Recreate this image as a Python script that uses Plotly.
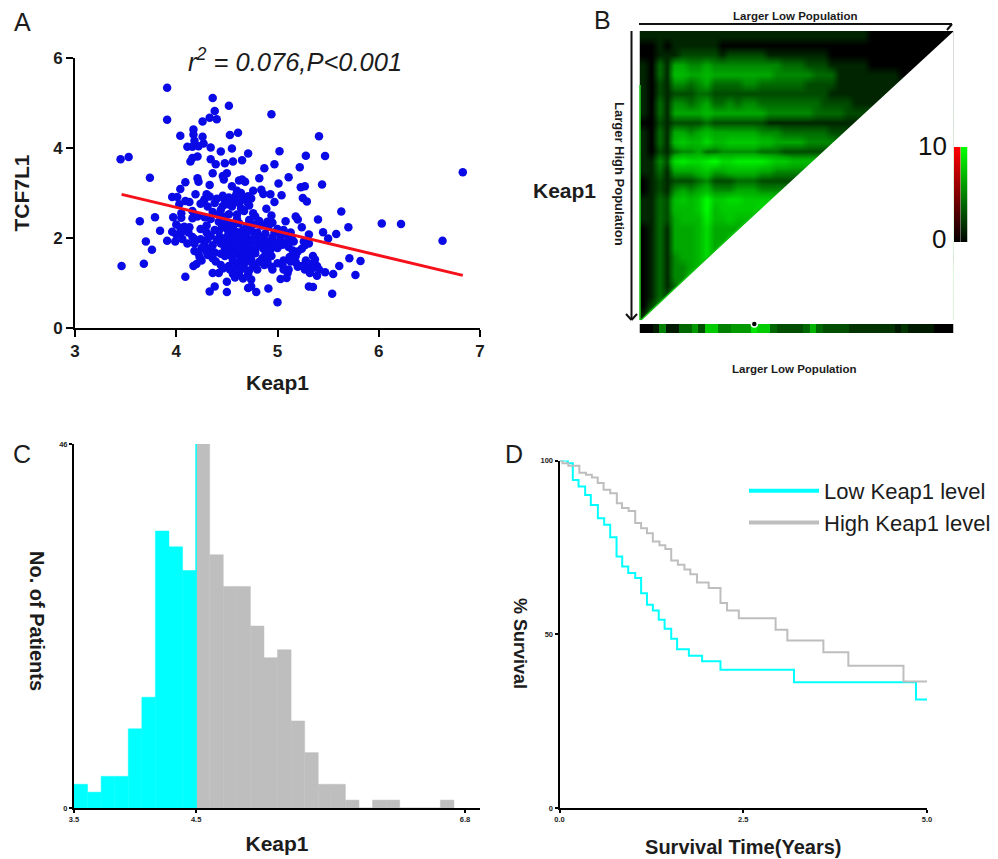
import plotly.graph_objects as go

W, H = 998, 859
INK = "#1c1c1c"

# ---------- Panel A ----------
scatter_points = [
(3.91,5.34),(4.36,5.11),(4.52,4.94),(4.38,4.82),(4.94,4.75),(3.91,4.63),(4.33,4.67),(4.40,4.64),(4.26,4.59),(4.17,4.41),
(4.17,4.30),(4.04,4.27),(4.26,4.25),(4.53,4.29),(4.61,4.34),(5.41,4.26),(4.18,4.16),(4.27,4.10),(4.11,4.03),(4.16,4.03),
(4.22,4.04),(4.34,4.01),(4.55,3.99),(4.44,3.92),(5.02,3.93),(4.71,3.88),(5.28,3.83),(5.47,3.82),(3.45,3.75),(3.53,3.80),
(4.21,3.81),(4.16,3.78),(4.14,3.70),(4.34,3.75),(4.39,3.64),(4.48,3.66),(4.56,3.70),(4.65,3.73),(4.97,3.64),(5.22,3.57),
(4.87,3.55),(4.36,3.44),(4.50,3.44),(4.46,3.38),(4.47,3.30),(3.74,3.34),(4.21,3.33),(4.22,3.25),(4.82,3.33),(5.11,3.35),
(4.62,3.28),(4.68,3.25),(4.65,3.30),(4.09,3.24),(4.33,3.18),(5.01,3.21),(5.44,3.19),(4.04,3.09),(4.55,3.15),(5.23,3.13),
(5.27,3.15),(4.60,3.05),(4.64,3.00),(4.76,3.05),(4.84,3.07),(4.86,2.98),(4.93,2.97),(5.04,2.95),(4.19,2.97),(4.30,2.97),
(3.96,2.91),(4.01,2.91),(4.33,2.92),(4.28,2.86),(4.40,2.87),(4.47,2.88),(4.52,2.90),(4.59,2.95),(4.66,2.90),(4.71,2.93),
(4.74,2.88),(4.58,2.83),(4.62,2.78),(4.70,2.80),(5.25,2.89),(5.29,2.81),(4.97,2.80),(4.27,2.81),(4.09,2.82),(4.03,2.75),
(4.13,2.80),(4.24,2.76),(4.31,2.70),(4.51,2.75),(4.55,2.70),(4.44,2.63),(4.46,2.71),(4.67,2.60),(4.89,2.65),(5.63,2.59),
(4.16,2.60),(4.36,2.58),(4.05,2.55),(4.76,2.55),(4.78,2.48),(4.52,2.53),(4.60,2.52),(4.18,2.50),(4.21,2.48),(4.28,2.46),
(4.34,2.42),(5.18,2.48),(5.20,2.41),(3.79,2.46),(3.97,2.46),(4.05,2.45),(4.16,2.44),(4.48,2.47),(4.60,2.42),(4.72,2.40),
(4.82,2.38),(4.90,2.36),(4.95,2.34),(5.40,2.41),(5.08,2.37),(3.64,2.37),(6.03,2.32),(6.22,2.31),(4.49,2.33),(4.55,2.30),
(4.62,2.33),(4.70,2.28),(4.76,2.30),(4.84,2.28),(4.91,2.25),(4.00,2.30),(4.08,2.25),(4.04,2.23),(4.13,2.24),(4.45,2.24),
(4.50,2.20),(5.24,2.24),(5.70,2.24),(5.00,2.20),(5.06,2.18),(4.38,2.18),(4.42,2.15),(3.84,2.16),(3.96,2.14),(4.00,2.08),
(4.05,2.13),(4.30,2.12),(4.52,2.12),(4.58,2.08),(5.13,2.12),(5.45,2.13),(5.31,2.08),(5.58,2.09),(5.10,2.06),(4.34,2.05),
(4.43,2.03),(4.50,2.03),(4.64,2.00),(4.78,2.05),(4.86,2.02),(4.95,2.01),(5.03,2.03),(5.14,1.98),(5.50,1.99),(4.16,2.02),
(4.24,1.97),(4.31,1.98),(4.40,1.96),(4.47,1.95),(4.72,1.97),(4.76,1.92),(4.83,1.95),(5.03,1.94),(5.08,1.90),(5.16,1.92),
(5.26,1.92),(5.31,1.88),(3.91,1.94),(3.99,1.92),(3.70,1.92),(6.63,1.94),(4.11,1.88),(4.18,1.88),(4.28,1.85),(4.36,1.84),
(4.53,1.86),(4.58,1.82),(4.65,1.88),(4.72,1.82),(4.81,1.85),(4.88,1.83),(4.95,1.84),(5.05,1.85),(5.11,1.80),(5.27,1.84),
(4.25,1.78),(4.34,1.76),(4.48,1.78),(4.55,1.75),(4.60,1.70),(4.67,1.73),(4.74,1.76),(4.86,1.76),(5.24,1.76),(3.76,1.74),
(4.18,1.71),(4.22,1.66),(4.30,1.70),(4.44,1.65),(4.52,1.68),(4.62,1.62),(4.69,1.65),(4.78,1.66),(4.91,1.68),(5.20,1.70),
(4.23,1.58),(4.31,1.62),(4.36,1.55),(4.55,1.58),(4.65,1.55),(4.74,1.52),(4.85,1.55),(4.94,1.60),(5.12,1.58),(5.18,1.60),
(5.35,1.60),(5.71,1.55),(4.25,1.50),(4.39,1.48),(4.56,1.50),(4.68,1.46),(4.82,1.47),(4.90,1.48),(5.06,1.50),(5.13,1.48),
(5.28,1.50),(5.37,1.52),(5.82,1.49),(3.46,1.38),(3.68,1.43),(4.17,1.38),(4.20,1.42),(4.44,1.40),(4.52,1.38),(4.60,1.40),
(4.77,1.38),(4.87,1.40),(4.94,1.36),(5.05,1.40),(5.24,1.38),(5.30,1.42),(5.39,1.38),(5.61,1.38),(4.53,1.30),(4.67,1.32),
(4.80,1.30),(4.95,1.30),(5.11,1.30),(5.27,1.30),(5.34,1.32),(4.36,1.22),(4.42,1.22),(4.56,1.20),(4.62,1.22),(4.71,1.20),
(5.10,1.22),(5.32,1.22),(5.47,1.24),(5.55,1.20),(5.77,1.18),(4.09,1.14),(4.66,1.10),(4.74,1.08),(5.03,1.09),(5.09,1.11),
(5.39,1.16),(4.50,1.03),(4.38,0.92),(4.71,0.89),(4.74,0.92),(4.91,0.88),(5.31,0.92),(5.35,0.91),(4.33,0.81),(4.50,0.80),
(4.79,0.80),(5.54,0.76),(5.00,0.57),(6.83,3.46),
(4.56,2.22),(4.66,2.18),(4.74,2.16),(4.80,2.12),(4.88,2.10),(4.97,2.12),(4.60,2.13),(4.69,2.08),(4.54,1.98),(4.61,1.93),
(4.68,1.96),(4.90,1.92),(4.98,1.90),(4.44,1.88),(4.48,1.84),(4.60,1.78),(4.69,1.80),(4.78,1.74),(4.93,1.74),(5.00,1.78),
(4.38,1.68),(4.48,1.60),(4.58,1.64),(4.72,1.60),(4.88,1.62),(5.15,1.72),(4.62,1.46),(4.75,1.44),(5.00,1.44),(5.18,1.46),
(4.60,1.32),(4.72,1.28),(5.06,1.30),(5.20,1.36),(4.46,1.32),(4.58,1.12),(5.41,1.30),(5.34,1.42),(4.30,2.28),(4.42,2.36),
(4.24,2.20),(4.12,2.12),(4.18,1.98),(4.06,1.98),(4.42,2.52),(4.64,2.66),(4.72,2.72),(4.38,2.78),(4.46,2.94),(4.94,2.50),
]
fit_x = [3.46, 6.83]
fit_y = [2.97, 1.17]

# ---------- Panel B ----------
# Read row by row from the triangle: 0-9 and a = 10, top row first
heat_rows = [
"1111111111111111111111111111100000000000",
"001011111100000000000000000000000000000",
"00111222221222221111111100000000000000",
"1031554454444444443332221111100000000",
"103166556555555554444433311111111000",
"10214434533334433333322221111111",
"10212223322222222222222211111111",
"103144345334344333333332222111",
"10315555655555554444443333222",
"0021222232222222111111111111",
"1031554565555554443333332222",
"103167668667777665555444433",
"1021344533444443332222222",
"114289889a889999877666666",
"113155567556666554444444",
"01212223422233322222223",
"0121454564445554444445",
"11326767a778877777777",
"11326667a677777878",
"113256669667666789",
"01315556855556678",
"013155568556788",
"0131555685678",
"01314556867890",
"01314456789",
"0131446789",
"01313578",
"013257",
"02468",
"147",
]
strip_values = [0,0,1,5,1,1,4,4,6,3,8,8,5,5,6,6,6,9,8,8,4,3,3,3,3,4,7,4,3,3,3,3,2,2,2,2,2,2,2,1,2,1,1,1,1,0,0,0]
best_cutoff_index = [17.05]
colorbar_levels = [10,8,6,4,2,0]

# ---------- Panel C ----------
bin_left = [3.5,3.6145,3.729,3.8435,3.958,4.0725,4.187,4.3015,4.416,4.5305,4.645,4.7595,4.874,4.9885,5.103,5.2175,5.332,5.4465,5.561,5.6755,5.79,5.9045,6.019,6.1335,6.248,6.3625,6.477,6.5915]
bin_count = [3,2,4,4,10,14,35,33,30,46,32,28,28,23,19,20,11,7,3,3,1,0,1,1,0,0,0,1]
cutoff_bin = 9
cut_value = 4.5305

# ---------- Panel D ----------
low_t = [0,.113,.181,.259,.349,.426,.522,.608,.690,.776,.853,.935,1.03,1.11,1.19,1.27,1.35,1.43,1.52,1.60,1.76,1.94,2.19,3.19,4.85,5.0]
low_s = [100,99.2,94.4,92.5,90.1,87.2,83.4,81.5,77.9,72.4,69.5,67.6,66.2,61.8,58.5,56.8,54.2,51.6,48.7,45.7,43.8,42.2,39.8,36.2,31.2,31.2]
high_t = [0,.04,.12,.27,.36,.44,.52,.60,.69,.78,.85,.94,1.03,1.11,1.19,1.27,1.36,1.44,1.52,1.61,1.70,1.78,1.87,2.03,2.19,2.28,2.44,2.94,3.10,3.59,3.93,4.68,5.0]
high_s = [100,99.2,98.5,96.5,95.9,95.1,93.5,91.6,90.6,87.7,86.3,85.5,82.0,80.5,79.1,76.7,75.6,74.5,71.2,70.0,68.6,67.3,64.9,63.3,59.0,56.8,54.6,51.3,48.2,44.8,40.9,36.4,36.4]

CYAN, GRAY = "#00FFFF", "#BEBEBE"


def dx(a, b):
    return [a / W, b / W]


def dy(top, bottom):
    return [1 - bottom / H, 1 - top / H]


fig = go.Figure()

# A
fig.add_trace(go.Scatter(x=[p[0] for p in scatter_points], y=[p[1] for p in scatter_points], mode="markers",
                         marker=dict(color="#0A0AE6", size=8.5), xaxis="x", yaxis="y", showlegend=False))
fig.add_trace(go.Scatter(x=fit_x, y=fit_y, mode="lines", line=dict(color="#F5101A", width=3),
                         xaxis="x", yaxis="y", showlegend=False))

# B
n_cols = 40
heat_z = []
for row in heat_rows:
    vals = [10 if c == "a" else int(c) for c in row]
    heat_z.append(vals + [vals[-1]] * (n_cols - len(vals)))
GREEN_SCALE = [[0, "#000000"], [1, "#00FF00"]]
MAP_SCALE = [[0, "#000000"], [0.2, "#004A00"], [0.5, "#00A800"], [1, "#00FF00"]]
RED_SCALE = [[0, "#000000"], [1, "#FF0000"]]
fig.add_trace(go.Heatmap(z=heat_z, colorscale=MAP_SCALE, zmin=0, zmax=10, zsmooth="best", showscale=False,
                         xaxis="x5", yaxis="y5"))
fig.add_trace(go.Heatmap(z=[strip_values], colorscale=GREEN_SCALE, zmin=0, zmax=10, showscale=False,
                         xaxis="x6", yaxis="y6"))
fig.add_trace(go.Scatter(x=best_cutoff_index, y=[0.5], mode="markers", cliponaxis=False,
                         marker=dict(color="black", size=6, line=dict(color="white", width=1.5)),
                         xaxis="x6", yaxis="y6", showlegend=False))
fig.add_trace(go.Heatmap(z=[[v] for v in colorbar_levels], colorscale=RED_SCALE, zmin=0, zmax=10, zsmooth="best",
                         showscale=False, xaxis="x7", yaxis="y7"))
fig.add_trace(go.Heatmap(z=[[v] for v in colorbar_levels], colorscale=GREEN_SCALE, zmin=0, zmax=10, zsmooth="best",
                         showscale=False, xaxis="x8", yaxis="y8"))

# C
fig.add_trace(go.Bar(x=bin_left[:cutoff_bin], y=bin_count[:cutoff_bin], width=0.1145, offset=0,
                     marker=dict(color=CYAN, line=dict(color=CYAN, width=0.5)), xaxis="x2", yaxis="y2", showlegend=False))
fig.add_trace(go.Bar(x=bin_left[cutoff_bin:], y=bin_count[cutoff_bin:], width=0.1145, offset=0,
                     marker=dict(color=GRAY, line=dict(color=GRAY, width=0.5)), xaxis="x2", yaxis="y2", showlegend=False))
fig.add_trace(go.Scatter(x=[cut_value, cut_value], y=[0, bin_count[cutoff_bin]], mode="lines",
                         line=dict(color=CYAN, width=1.5), xaxis="x2", yaxis="y2", showlegend=False))

# D
fig.add_trace(go.Scatter(x=low_t, y=low_s, mode="lines", line=dict(color=CYAN, width=2, shape="hv"),
                         xaxis="x3", yaxis="y3", showlegend=False))
fig.add_trace(go.Scatter(x=high_t, y=high_s, mode="lines", line=dict(color=GRAY, width=2, shape="hv"),
                         xaxis="x3", yaxis="y3", showlegend=False))
fig.add_trace(go.Scatter(x=[None], y=[None], mode="lines", name="Low Keap1 level", line=dict(color=CYAN, width=4),
                         xaxis="x3", yaxis="y3"))
fig.add_trace(go.Scatter(x=[None], y=[None], mode="lines", name="High Keap1 level", line=dict(color=GRAY, width=4),
                         xaxis="x3", yaxis="y3"))

BIG = dict(family="Liberation Sans", size=17, color=INK, weight="bold")
SMALL = dict(family="Liberation Sans", size=7.5, color=INK, weight="bold")
TITLE = dict(family="Liberation Sans", size=21, color=INK, weight="bold")
base = dict(showgrid=False, zeroline=False, showline=True, linecolor="black", ticks="outside", tickcolor="black", automargin=False)
hidden = dict(visible=False)

layout = dict(
    width=W, height=H, margin=dict(l=0, r=0, t=0, b=0), paper_bgcolor="white", plot_bgcolor="white",
    barmode="overlay", font=dict(family="Liberation Sans", color=INK),
    xaxis=dict(base, domain=dx(75, 480), range=[3, 7], tickvals=[3, 4, 5, 6, 7], linewidth=2, tickwidth=2, ticklen=7,
               tickfont=BIG, anchor="y", title=dict(text="Keap1", font=TITLE, standoff=15)),
    yaxis=dict(base, domain=dy(58, 328), range=[0, 6], tickvals=[0, 2, 4, 6], linewidth=2, tickwidth=2, ticklen=7,
               tickfont=BIG, anchor="x", title=dict(text="TCF7L1", font=TITLE, standoff=18)),
    xaxis2=dict(base, domain=dx(74, 480), range=[3.5, 6.926], tickvals=[3.5, cut_value, 6.8], ticktext=["3.5", "4.5", "6.8"],
                linewidth=2, tickwidth=1.5, ticklen=3, tickfont=SMALL, anchor="y2",
                title=dict(text="Keap1", font=TITLE, standoff=13)),
    yaxis2=dict(base, domain=dy(444, 808), range=[0, 46], tickvals=[0, 46], linewidth=2, tickwidth=1.5, ticklen=3,
                tickfont=SMALL, anchor="x2"),
    xaxis3=dict(base, domain=dx(559.5, 927), range=[0, 5], tickvals=[0, 2.5, 5], ticktext=["0.0", "2.5", "5.0"],
                linewidth=2, tickwidth=1.5, ticklen=3, tickfont=dict(SMALL), anchor="y3",
                title=dict(text="Survival Time(Years)", font=dict(TITLE, size=20), standoff=17)),
    yaxis3=dict(base, domain=dy(460.5, 808), range=[0, 100], tickvals=[0, 50, 100], linewidth=2, tickwidth=1.5, ticklen=3,
                tickfont=SMALL, anchor="x3"),
    xaxis5=dict(hidden, domain=dx(639.5, 953.5), range=[-0.5, 39.5], anchor="y5"),
    yaxis5=dict(hidden, domain=dy(31, 320), range=[29.5, -0.5], anchor="x5"),
    xaxis6=dict(hidden, domain=dx(639.5, 953.5), range=[-0.5, 47.5], anchor="y6"),
    yaxis6=dict(hidden, domain=dy(324, 333), range=[-0.5, 0.5], anchor="x6"),
    xaxis7=dict(hidden, domain=dx(954, 960.5), range=[-0.5, 0.5], anchor="y7"),
    yaxis7=dict(hidden, domain=dy(147, 242), range=[5, 0], anchor="x7"),
    xaxis8=dict(hidden, domain=dx(960.5, 967.5), range=[-0.5, 0.5], anchor="y8"),
    yaxis8=dict(hidden, domain=dy(147, 242), range=[5, 0], anchor="x8"),
    showlegend=True,
    legend=dict(x=744 / W, y=1 - 470 / H, xanchor="left", yanchor="top", itemwidth=70, tracegroupgap=0,
                bgcolor="rgba(0,0,0,0)", font=dict(family="Liberation Sans", size=22, color=INK)),
)


def pa(x, y):
    return dict(x=x / W, y=1 - y / H, xref="paper", yref="paper", showarrow=False, xanchor="center", yanchor="middle")


def line(x0, y0, x1, y1, width=2):
    return dict(type="line", xref="paper", yref="paper", x0=x0 / W, x1=x1 / W, y0=1 - y0 / H, y1=1 - y1 / H,
                line=dict(color="#111111", width=width))


layout["annotations"] = [
    dict(pa(22, 22), text="A", font=dict(size=25, color=INK)),
    dict(pa(602, 20), text="B", font=dict(size=25, color=INK)),
    dict(pa(22, 454), text="C", font=dict(size=25, color=INK)),
    dict(pa(514, 454), text="D", font=dict(size=25, color=INK)),
    dict(pa(295, 60), text="<i>r<sup>2</sup> = 0.076,P&lt;0.001</i>", font=dict(size=25.5, color=INK)),
    dict(pa(795.5, 16), text="Larger Low Population", font=dict(size=11.5, color=INK, weight="bold")),
    dict(pa(794.5, 369), text="Larger Low Population", font=dict(size=11.5, color=INK, weight="bold")),
    dict(pa(620, 174), text="Larger High Population", textangle=90, font=dict(size=13, color=INK, weight="bold")),
    dict(pa(564, 191), text="Keap1", font=dict(size=21, color=INK, weight="bold")),
    dict(pa(932, 146), text="10", font=dict(size=26, color="#111111")),
    dict(pa(939, 239), text="0", font=dict(size=26, color="#111111")),
    dict(pa(37, 621), text="No. of Patients", textangle=90, font=dict(size=20, color=INK, weight="bold")),
    dict(pa(520, 643), text="% Survival", textangle=90, font=dict(size=18, color=INK, weight="bold")),
]

layout["shapes"] = [
    # white area under the diagonal of the triangular map
    dict(type="path", xref="x5", yref="y5", layer="above", line_width=0, fillcolor="white",
         path="M 39.55 -0.5 L -0.5 29.6 L 39.55 29.6 Z"),
    line(639, 24, 952, 24, 2), line(952, 24, 947, 30, 2),
    line(631.5, 31, 631.5, 320, 2), line(631.5, 320, 626, 314, 2), line(631.5, 320, 637, 314, 2),
    line(640, 85, 640, 320, 1.5) | dict(line=dict(color="#20D020", width=1.5)),
    line(641, 320, 760, 208, 1.5) | dict(line=dict(color="#10C010", width=1.5)),
]

fig.update_layout(**layout)
fig.write_html("out.html", config={"displayModeBar": False}, post_script="document.body.style.margin='0';")
